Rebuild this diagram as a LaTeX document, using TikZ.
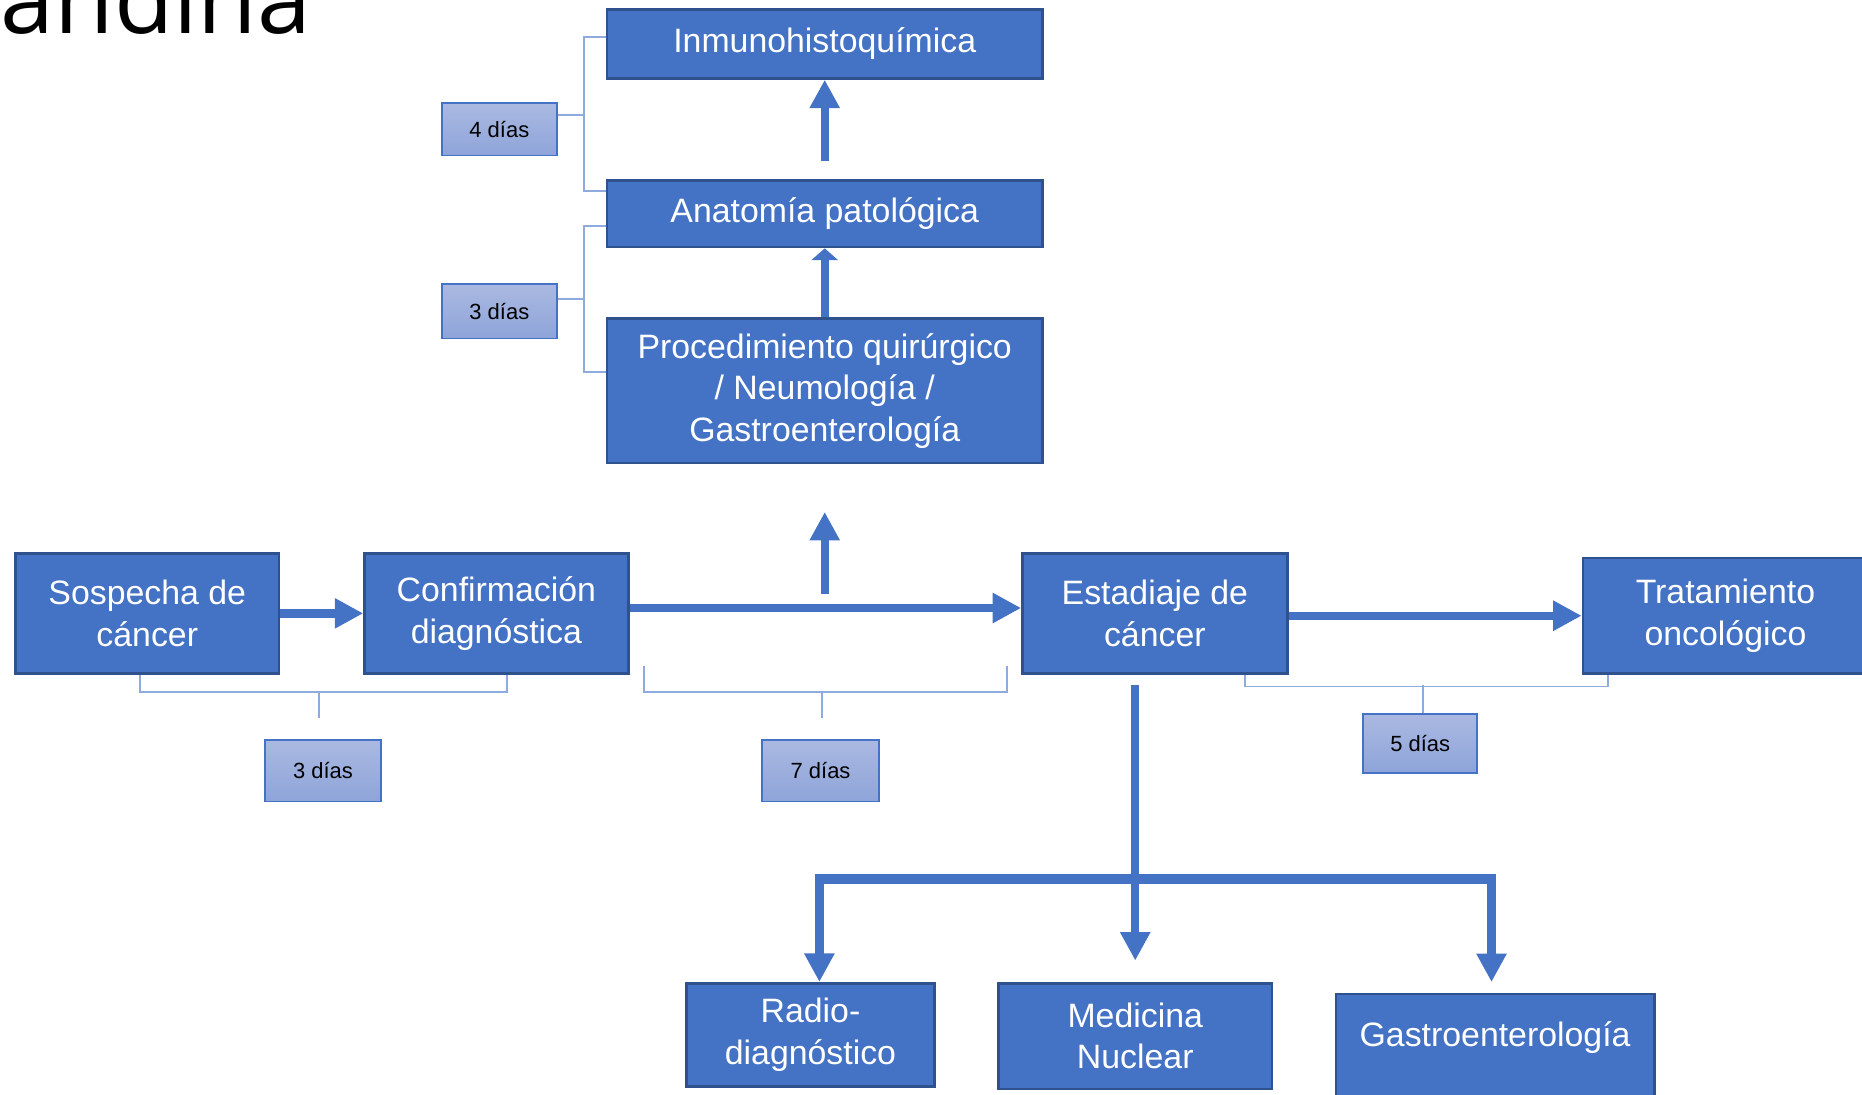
\documentclass[tikz,border=0pt]{standalone}
\usepackage{fontspec}
\setmainfont{Liberation Sans}
\newfontfamily\headfont{Open Sans}
\usetikzlibrary{arrows.meta,positioning}
\definecolor{boxblue}{RGB}{68,114,196}
\definecolor{boxedge}{RGB}{47,82,143}
\definecolor{brackblue}{RGB}{143,170,220}
\definecolor{daytop}{RGB}{170,185,225}
\definecolor{daybot}{RGB}{142,164,217}

\begin{document}
\begin{tikzpicture}
[x=1pt,y=-1pt,
 box/.style={rectangle,draw=boxedge,fill=boxblue,line width=2.2pt,text=white,align=center,inner sep=0pt,font=\fontsize{28.5}{35}\selectfont},
 daybox/.style={rectangle,draw=boxblue,line width=1.5pt,top color=daytop,bottom color=daybot,inner sep=0pt,font=\fontsize{18.5}{22}\selectfont},
 flow/.style={draw=boxblue,line width=7pt,-{Triangle[length=24pt,width=24pt]}},
 trunk/.style={draw=boxblue,line width=8pt,line cap=rect},
 bracket/.style={draw=brackblue,line width=1.6pt}]
\useasboundingbox (0,0) rectangle (1568,922);
\node[anchor=base west,font=\headfont\fontsize{81.6}{90}\selectfont] (head) at (-3,28) {andina};

% upper column
\node[box,minimum width=367pt,minimum height=58pt] (inmuno) at (694.5,37) {Inmunohistoquímica};
\node[box,minimum width=367pt,minimum height=56pt] (anatomia) at (694.5,180) {Anatomía patológica};
\node[box,minimum width=367pt,minimum height=122pt] (proced) at (694.5,329) {Procedimiento quirúrgico\\/ Neumología /\\Gastroenterología};

% main row
\node[box,minimum width=222pt,minimum height=101pt] (sospecha) at (124,516.5) {Sospecha de\\cáncer};
\node[box,minimum width=222pt,minimum height=101pt] (confirm) at (418,516.5) {Confirmación\\diagnóstica};
\node[box,minimum width=223pt,minimum height=101pt] (estadiaje) at (972.5,516.5) {Estadiaje de\\cáncer};
\node[box,minimum width=240pt,minimum height=97pt] (tratam) at (1453,518.5) {Tratamiento\\oncológico};

% lower row
\node[box,minimum width=209pt,minimum height=87pt] (radio) at (682.5,871.5) {Radio-\\diagnóstico};
\node[box,minimum width=230pt,minimum height=89pt] (medicina) at (956,872.5) {Medicina\\Nuclear};
\node[box,minimum width=268pt,anchor=north,text height=44pt,text depth=80pt] (gastro) at (1259,836) {Gastroenterología};

% day labels
\node[daybox,minimum width=97pt,minimum height=44pt] (dias4) at (420.5,109) {4 días};
\node[daybox,minimum width=97pt,minimum height=46pt] (dias5) at (420.5,262) {3 días};
\node[daybox,minimum width=98pt,minimum height=52pt] (dias1) at (272,649) {3 días};
\node[daybox,minimum width=98pt,minimum height=52pt] (dias2) at (691,649) {7 días};
\node[daybox,minimum width=96pt,minimum height=50pt] (dias3) at (1196,626) {5 días};

% arrows
\draw[flow,shorten <=15pt] (anatomia.north) -- (inmuno.south);
\draw[flow,-{Triangle[length=10pt,width=22pt]}] (proced.north) -- (anatomia.south);
\draw[flow] (sospecha.east) -- (confirm.west);
\draw[flow] ([yshift=4.5pt]confirm.east) -- ([yshift=4.5pt]estadiaje.west);
\draw[flow] (estadiaje.east |- tratam.west) -- (tratam.west);
\coordinate (split) at (694.5,512);
\draw[flow,shorten <=12pt,shorten >=40pt] (split) -- (proced.south);
\draw[flow,shorten <=9pt,shorten >=18pt] (estadiaje.south -| medicina.north) -- (medicina.north);
\coordinate (hubL) at (690,740);
\coordinate (hubR) at (1256,740);
\draw[trunk] (hubL) -- (hubR);
\draw[flow] (hubL) -- (radio.north -| hubL);
\draw[flow,shorten >=9pt] (hubR) -- (gastro.north -| hubR);

% brackets
\draw[bracket] ([yshift=6pt]inmuno.west) -- ++(-18,0) |- ([yshift=-10pt]anatomia.north west);
\coordinate (s4) at (493,97);
\draw[bracket] (dias4.east |- s4) -- (s4);
\draw[bracket] ([yshift=-10pt]anatomia.west) -- ++(-18,0) |- ([yshift=16pt]proced.west);
\coordinate (s5) at (493,252);
\draw[bracket] (dias5.east |- s5) -- (s5);
\draw[bracket] ([xshift=-6pt]sospecha.south) -- ++(0,15) -| ([xshift=9pt]confirm.south);
\coordinate (b1) at (269,582);
\draw[bracket,shorten >=18pt] (b1) -- (b1 |- dias1.north);
\draw[bracket] ([xshift=12pt,yshift=7pt]confirm.south east) -- ++(0,22) -| ([xshift=-12pt,yshift=7pt]estadiaje.south west);
\coordinate (b2) at (692,582);
\draw[bracket,shorten >=18pt] (b2) -- (b2 |- dias2.north);
\draw[bracket] ([xshift=-37pt]estadiaje.south east) -- ++(0,10) -| ([xshift=22pt]tratam.south west);
\coordinate (b3) at (1198,577);
\draw[bracket] (b3) -- (b3 |- dias3.north);
\end{tikzpicture}
\end{document}
